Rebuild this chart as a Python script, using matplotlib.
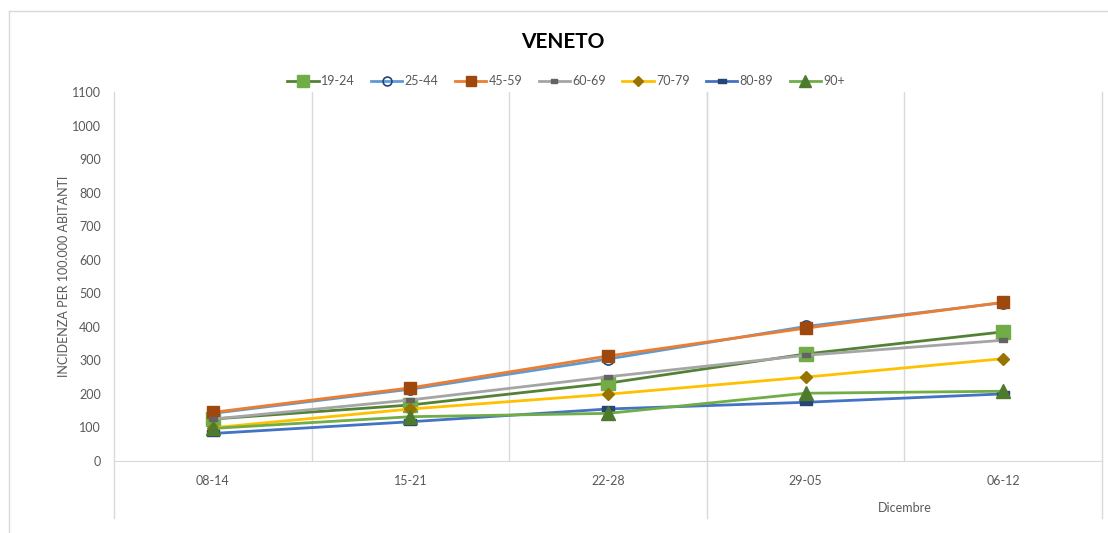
import matplotlib.pyplot as plt
from matplotlib.path import Path

plt.rcParams['font.family'] = ['Lato', 'DejaVu Sans']

weeks = ["08-14", "15-21", "22-28", "29-05", "06-12"]
month_label = "Dicembre"

age_19_24 = [125, 167, 232, 319, 385]
age_25_44 = [142, 214, 304, 401, 472]
age_45_59 = [145, 218, 313, 396, 473]
age_60_69 = [125, 182, 251, 315, 360]
age_70_79 = [99, 155, 199, 250, 305]
age_80_89 = [82, 117, 155, 175, 200]
age_90 = [97, 132, 142, 202, 208]

rect = Path([(-1, -0.55), (1, -0.55), (1, 0.55), (-1, 0.55), (-1, -0.55)],
            [Path.MOVETO, Path.LINETO, Path.LINETO, Path.LINETO, Path.CLOSEPOLY])

series = [
    ("19-24", age_19_24, "#548235", dict(marker="s", ms=10, mfc="#70AD47", mec="#70AD47")),
    ("25-44", age_25_44, "#5B9BD5", dict(marker="o", ms=8, mfc="none", mec="#264478", mew=1.2)),
    ("45-59", age_45_59, "#ED7D31", dict(marker="s", ms=9, mfc="#9E480E", mec="#9E480E")),
    ("60-69", age_60_69, "#A5A5A5", dict(marker=rect, ms=6, mfc="#636363", mec="#636363")),
    ("70-79", age_70_79, "#FFC000", dict(marker="D", ms=6.5, mfc="#997300", mec="#997300")),
    ("80-89", age_80_89, "#4472C4", dict(marker=rect, ms=8, mfc="#264478", mec="#264478")),
    ("90+", age_90, "#70AD47", dict(marker="^", ms=10, mfc="#4E7A2E", mec="#4E7A2E")),
]

fig = plt.figure(figsize=(11.08, 5.33), dpi=100)
ax = fig.add_axes([0.1029, 0.1351, 0.8917, 0.6923])

x = list(range(len(weeks)))
for name, vals, col, mk in series:
    ax.plot(x, vals, color=col, lw=2, label=name, **mk)

ax.set_xlim(-0.5, len(weeks) - 0.5)
ax.set_ylim(0, 1100)
ax.set_yticks(range(0, 1101, 100))
ax.set_xticks(x)
ax.set_xticklabels(weeks)
ax.tick_params(axis="both", length=0, labelsize=9, colors="#595959")
ax.tick_params(axis="x", pad=10)
ax.tick_params(axis="y", pad=9.5)

grid_col = "#D9D9D9"
for g in [0.5, 1.5, 2.5, 3.5]:
    ax.axvline(g, color=grid_col, lw=1, zorder=0)
for side in ["top", "right", "left"]:
    ax.spines[side].set_visible(False)
ax.spines["bottom"].set_color(grid_col)

# category group separators extending below the axis
for g in [-0.5, 2.5, 4.5]:
    ax.plot([g, g], [-0.155, 1.0], transform=ax.get_xaxis_transform(),
            color=grid_col, lw=1, clip_on=False, zorder=0)

ax.text(3.5, -0.128, month_label, transform=ax.get_xaxis_transform(),
        ha="center", va="center", fontsize=9, color="#595959")

ax.set_ylabel("INCIDENZA PER 100.000 ABITANTI", fontsize=9, color="#595959", labelpad=1.5)

fig.text(0.508, 0.922, "VENETO", ha="center", va="center", fontsize=15,
         fontweight="bold", color="black")

fig.legend(loc="center", bbox_to_anchor=(0.511, 0.848), ncol=7, frameon=False,
           fontsize=9, handlelength=2.5, columnspacing=1.3, handletextpad=0.2,
           markerscale=0.8, labelcolor="#595959")

# outer chart border
fig.add_artist(plt.Line2D([0.0081, 0.0081], [0, 0.979], color=grid_col, lw=1))
fig.add_artist(plt.Line2D([0.0081, 1], [0.979, 0.979], color=grid_col, lw=1))

fig.savefig("out.png", dpi=100)
